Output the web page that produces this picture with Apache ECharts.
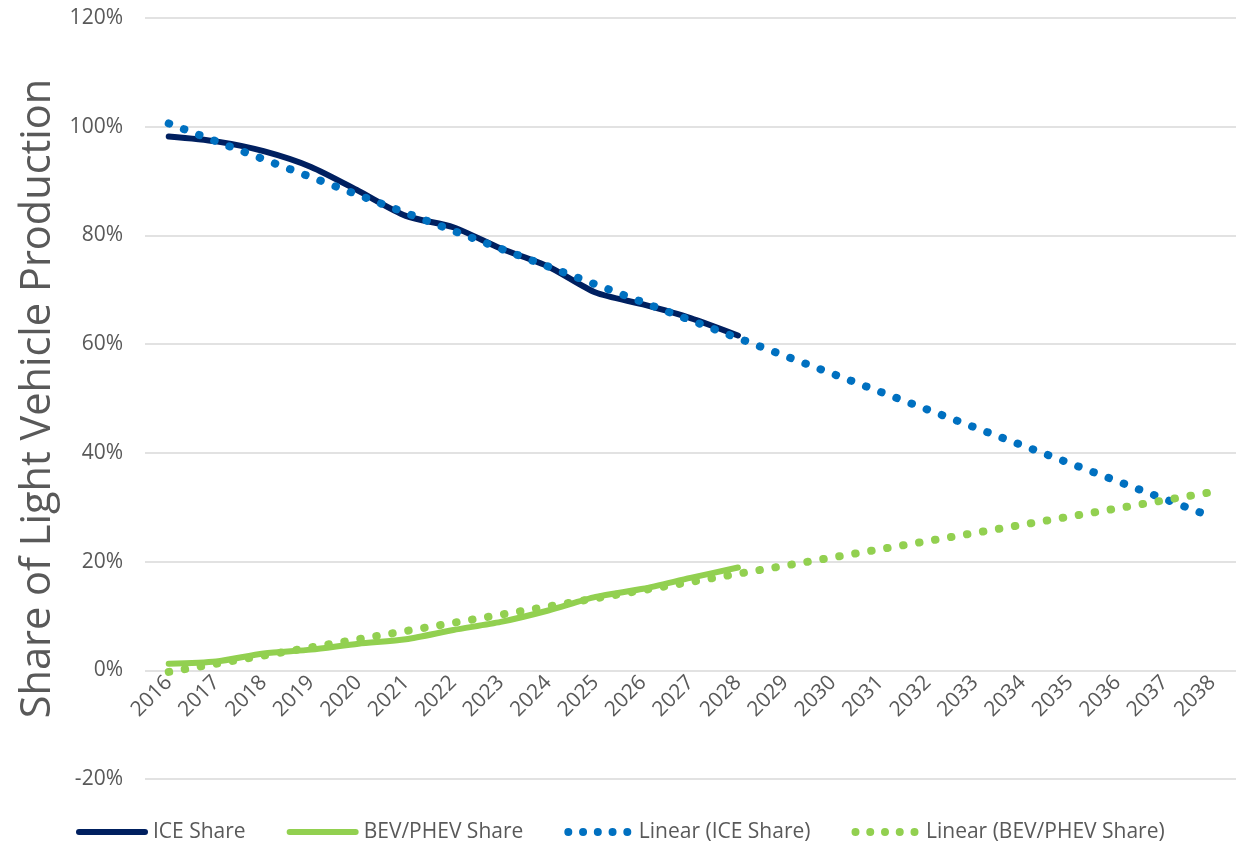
<!DOCTYPE html>
<html>
<head>
<meta charset="utf-8">
<script src="https://cdn.jsdelivr.net/npm/echarts@6/dist/echarts.min.js"></script>
<style>
html,body{margin:0;padding:0;background:#fff;}
#chart{width:1238px;height:846px;}
</style>
</head>
<body>
<div id="chart"></div>
<script>
// ---- data ----
const years = ['2016','2017','2018','2019','2020','2021','2022','2023','2024','2025','2026','2027','2028','2029','2030','2031','2032','2033','2034','2035','2036','2037','2038'];
const iceShare = [98.2, 97.3, 95.5, 92.6, 88.2, 83.6, 81.5, 77.6, 74.3, 69.5, 67.3, 64.8, 61.6];
const bevShare = [1.2, 1.6, 3.1, 3.8, 4.9, 5.7, 7.4, 8.9, 11.0, 13.5, 15.0, 17.0, 18.9];
// trendline endpoints (2016 and 2038)
const iceTrend = [100.6, null, null, null, null, null, null, null, null, null, null, null, null, null, null, null, null, null, null, null, null, null, 28.2];
const bevTrend = [-0.3, null, null, null, null, null, null, null, null, null, null, null, null, null, null, null, null, null, null, null, null, null, 32.8];
const seriesNames = ['ICE Share', 'BEV/PHEV Share', 'Linear (ICE Share)', 'Linear (BEV/PHEV Share)'];
const yTitle = 'Share of Light Vehicle Production';

const FONT = 'Open Sans';
const GREY = '#595959';
const solidIcon = 'path://M3,0 H69 A3,3 0 0 1 69,6 H3 A3,3 0 0 1 3,0 Z';
const dotIcon = 'path://' + [4, 18.75, 33.5, 48.25, 63].map(function (c) {
  return 'M' + (c - 4) + ',4 a4,4 0 1,0 8,0 a4,4 0 1,0 -8,0 Z';
}).join(' ');

const GRID_TOP = 18, GRID_BOTTOM = 67, H = 846;
const plotH = H - GRID_TOP - GRID_BOTTOM;
const zeroOffset = -plotH * (0 - (-20)) / (120 - (-20));

const chart = echarts.init(document.getElementById('chart'), null, {renderer: 'canvas'});
chart.setOption({
  animation: false,
  backgroundColor: '#fff',
  grid: {left: 145, right: 2, top: GRID_TOP, bottom: GRID_BOTTOM, containLabel: false},
  legend: {
    left: 76, top: 820, padding: 0,
    itemWidth: 72, itemHeight: 8, itemGap: 41,
    textStyle: {fontFamily: FONT, fontSize: 21, color: GREY, lineHeight: 24, padding: [0, 0, 0, 0]},
    itemStyle: {borderWidth: 0},
    data: [
      {name: seriesNames[0], icon: solidIcon},
      {name: seriesNames[1], icon: solidIcon},
      {name: seriesNames[2], icon: dotIcon},
      {name: seriesNames[3], icon: dotIcon}
    ]
  },
  xAxis: {
    type: 'category',
    data: years,
    boundaryGap: true,
    offset: zeroOffset,
    axisLine: {show: false, onZero: false},
    axisTick: {show: false},
    axisLabel: {rotate: 45, margin: 9, fontFamily: FONT, fontSize: 21, color: GREY, interval: 0},
    splitLine: {show: false}
  },
  yAxis: {
    type: 'value',
    min: -20, max: 120, interval: 20,
    name: yTitle,
    nameLocation: 'middle',
    nameRotate: 90,
    nameGap: 86,
    nameTextStyle: {fontFamily: FONT, fontSize: 41.5, color: GREY},
    axisLine: {show: false},
    axisTick: {show: false},
    axisLabel: {formatter: '{value}%', margin: 22, fontFamily: FONT, fontSize: 21, color: GREY},
    splitLine: {lineStyle: {color: '#d9d9d9', width: 1.5}}
  },
  series: [
    {
      name: seriesNames[0], type: 'line', data: iceShare, color: '#002060',
      symbol: 'none', smooth: 0.25,
      lineStyle: {width: 6, color: '#002060', cap: 'round', join: 'round'}
    },
    {
      name: seriesNames[1], type: 'line', data: bevShare, color: '#92D050',
      symbol: 'none', smooth: 0.25,
      lineStyle: {width: 6, color: '#92D050', cap: 'round', join: 'round'}
    },
    {
      name: seriesNames[2], type: 'line', data: iceTrend, color: '#0070C0',
      symbol: 'none', connectNulls: true,
      lineStyle: {width: 8, color: '#0070C0', type: [0.5, 15.7], cap: 'round'}
    },
    {
      name: seriesNames[3], type: 'line', data: bevTrend, color: '#92D050',
      symbol: 'none', connectNulls: true,
      lineStyle: {width: 8, color: '#92D050', type: [0.5, 15.7], cap: 'round'}
    }
  ]
});
</script>
</body>
</html>
